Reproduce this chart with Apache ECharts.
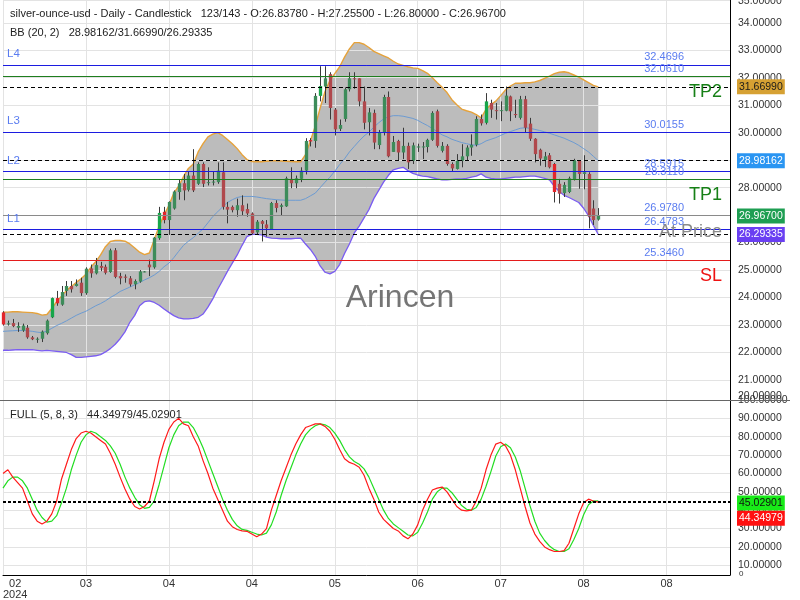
<!DOCTYPE html>
<html><head><meta charset="utf-8">
<script src="https://cdn.jsdelivr.net/npm/echarts@6/dist/echarts.min.js"></script>
<style>html,body{margin:0;padding:0;background:#fff}#c{width:800px;height:600px}</style>
</head><body><div id="c"></div>
<script>
// ---------- DATA ----------
const tickLabels = ['02','03','04','04','05','06','07','08','08'];
const tickYear = '2024';
const SLOTS = 150;
const TICK_EVERY = 17;

const open = [23.46,23.04,23.07,22.9,22.8,22.9,22.55,22.48,22.5,22.7,
23.28,23.98,23.74,24.24,24.42,24.42,24.54,24.16,25.06,24.88,
25.15,25.12,24.93,25.72,24.78,24.76,24.7,24.48,24.58,24.94,
25.2,25.1,26.16,27.12,26.82,27.24,27.84,28.16,27.92,28.44,
28.14,28.86,28.18,28.2,28.2,28.56,27.3,27.3,27.18,27.36,
27.22,27.06,26.37,26.78,26.66,26.48,27.44,27.3,27.32,28.32,
28.16,28.32,28.62,29.73,29.7,31.34,31.68,32.13,30.84,30.14,
30.5,31.58,31.98,31.98,31.14,30.38,30.72,29.55,29.99,31.3,
29.3,29.7,29.28,29.52,28.98,29.46,29.48,29.48,29.74,30.78,
29.34,29.52,28.86,28.68,28.98,29.14,29.46,29.56,30.5,30.36,
31.08,30.82,30.8,30.8,31.32,30.68,30.54,31.22,30.33,29.78,
29.38,29.0,29.18,28.86,28.14,27.8,27.84,28.3,29.0,28.5,
28.5,27.24,26.8378];
const close = [23.02,23.06,22.96,22.97,22.98,22.55,22.48,22.5,22.76,23.16,
23.98,23.79,24.2,24.42,24.3,24.5,24.16,25.05,24.88,25.18,
25.08,24.9,25.72,24.75,24.7,24.72,24.48,24.6,24.95,24.95,
25.1,26.18,27.08,26.82,27.48,27.86,28.16,27.9,28.44,27.9,
28.86,28.14,28.2,28.22,28.62,27.3,27.2,27.18,27.36,27.14,
27.06,26.34,26.76,26.68,26.52,27.44,27.26,27.36,28.34,28.16,
28.34,28.62,29.7,29.68,31.34,31.7,31.98,30.9,30.12,30.28,
31.58,31.98,31.96,31.14,30.36,30.74,29.64,29.99,31.3,29.14,
29.66,29.28,29.52,28.92,29.54,29.5,29.5,29.74,30.72,29.52,
29.52,28.86,28.7,28.98,29.14,29.46,29.56,30.5,30.34,31.14,
30.84,30.8,30.82,31.35,30.78,30.64,31.22,30.18,29.78,29.22,
29.06,29.14,28.74,27.84,27.78,28.1,28.34,29.0,28.5,28.56,
26.94,26.82,26.967];
const low = [22.98,22.98,22.92,22.75,22.75,22.5,22.45,22.35,22.38,22.65,
23.25,23.7,23.7,24.06,24.18,24.4,24.06,24.1,24.72,24.84,
24.96,24.84,24.9,24.7,24.48,24.54,24.4,24.3,24.54,24.92,
24.78,25.05,26.1,26.7,26.28,27.2,27.56,27.54,27.86,27.84,
28.1,28.02,28.08,28.08,28.14,27.2,26.7,27.1,26.94,27.0,
26.94,26.3,26.28,26.04,26.22,26.46,27.1,27.0,27.3,27.98,
27.98,28.2,28.48,29.5,29.45,31.14,31.08,30.48,29.9,30.06,
30.4,31.5,31.6,30.96,30.12,29.9,29.4,29.4,29.9,29.1,
29.3,29.0,29.04,28.68,28.86,29.3,29.04,29.28,29.7,29.46,
29.28,28.8,28.58,28.66,28.74,28.98,29.16,29.5,30.26,30.3,
30.54,30.48,30.42,30.78,30.42,30.54,30.48,30.0,29.7,28.92,
28.8,28.75,28.7,27.46,27.42,27.66,27.8,28.26,27.96,27.94,
26.52,26.64,26.80];
const high = [23.5,23.16,23.22,23.1,23.05,23.0,22.6,22.55,22.8,23.2,
24.0,24.24,24.42,24.6,24.6,24.66,24.72,25.1,25.2,25.44,
25.3,25.2,25.78,25.8,24.9,24.84,24.78,24.66,25.0,24.96,
25.38,26.2,27.3,27.3,27.5,27.9,28.3,28.5,28.6,29.4,
28.92,28.92,28.74,28.6,28.92,28.92,27.48,27.35,27.6,27.72,
27.42,27.1,26.82,26.82,26.82,27.48,27.54,27.42,28.4,28.74,
28.44,28.74,29.8,29.8,31.44,32.42,32.42,32.2,30.9,30.48,
31.65,32.2,32.2,31.98,31.68,30.9,30.84,30.1,31.38,31.5,
29.88,29.74,30.18,29.64,29.64,29.6,29.66,29.78,30.78,30.84,
29.66,29.58,28.92,29.22,29.58,29.54,29.94,30.6,30.66,31.44,
31.2,31.08,31.14,31.68,31.35,31.2,31.34,31.34,30.54,29.8,
29.42,29.3,29.26,28.9,28.32,28.2,28.4,29.05,29.0,29.18,
28.56,27.54,27.255];
const brightUp = [10,32,65,99];
const brightDown = [0,11,33,63,113];

const bbUpper = [23.47,23.47,23.48,23.48,23.47,23.46,23.45,23.42,23.36,23.38,
23.6,23.85,24.05,24.25,24.4,24.55,24.68,24.85,25.1,25.3,
25.55,25.85,26.04,26.08,26.08,26.05,25.95,25.8,25.65,25.56,
25.62,26.1,26.6,27.0,27.35,27.8,28.05,28.4,28.7,28.86,
29.3,29.6,29.85,29.95,30.0,29.9,29.75,29.6,29.42,29.2,
29.02,28.95,28.94,28.94,28.96,28.98,28.98,28.97,28.96,28.95,
28.94,28.94,29.2,29.7,30.24,30.9,31.5,31.9,32.15,32.4,
32.75,33.05,33.28,33.28,33.22,33.1,32.96,32.88,32.8,32.72,
32.6,32.5,32.45,32.4,32.36,32.34,32.26,32.16,32.0,31.82,
31.65,31.46,31.2,31.02,30.86,30.8,30.75,30.66,30.54,30.85,
31.02,31.15,31.35,31.56,31.7,31.8,31.8,31.82,31.82,31.85,
31.9,31.98,32.06,32.15,32.2,32.22,32.18,32.1,32.02,31.92,
31.82,31.72,31.6699];
const bbMiddle = [22.77,22.78,22.79,22.8,22.8,22.79,22.77,22.74,22.72,22.78,
22.88,22.98,23.06,23.15,23.25,23.35,23.43,23.5,23.6,23.7,
23.78,23.88,24.0,24.1,24.22,24.3,24.38,24.46,24.55,24.64,
24.72,24.82,24.95,25.12,25.25,25.45,25.68,25.9,26.05,26.18,
26.34,26.5,26.72,26.95,27.12,27.3,27.46,27.56,27.64,27.68,
27.68,27.68,27.66,27.63,27.6,27.58,27.56,27.55,27.54,27.54,
27.54,27.54,27.6,27.7,27.8,28.0,28.2,28.38,28.6,28.84,
29.05,29.3,29.5,29.7,29.88,30.02,30.2,30.36,30.5,30.58,
30.62,30.62,30.6,30.56,30.52,30.45,30.35,30.26,30.15,30.04,
29.92,29.85,29.76,29.7,29.64,29.6,29.56,29.54,29.6,29.7,
29.76,29.82,29.9,29.98,30.04,30.1,30.16,30.18,30.16,30.12,
30.08,30.03,29.98,29.92,29.86,29.8,29.72,29.64,29.54,29.42,
29.3,29.14,28.98162];
const bbLower = [22.08,22.08,22.09,22.1,22.1,22.1,22.1,22.08,22.06,22.08,
22.06,22.04,22.02,22.0,21.92,21.82,21.82,21.84,21.86,21.88,
21.92,22.02,22.14,22.3,22.5,22.75,23.1,23.35,23.7,23.85,
23.88,23.82,23.72,23.58,23.46,23.34,23.26,23.22,23.22,23.24,
23.28,23.4,23.65,23.95,24.3,24.62,24.95,25.25,25.55,25.9,
26.22,26.3,26.3,26.28,26.2,26.16,26.15,26.14,26.14,26.14,
26.15,26.16,25.95,25.75,25.5,25.15,24.92,24.86,24.95,25.2,
25.6,25.95,26.35,26.6,26.9,27.2,27.6,27.9,28.2,28.45,
28.65,28.7,28.74,28.62,28.52,28.46,28.42,28.4,28.36,28.32,
28.28,28.28,28.3,28.32,28.32,28.34,28.38,28.42,28.5,28.38,
28.34,28.32,28.32,28.34,28.36,28.38,28.38,28.4,28.42,28.42,
28.38,28.34,28.28,28.05,27.86,27.72,27.64,27.55,27.46,27.25,
26.98,26.62,26.29335];

const stochK = [60,62,58,55,52,45,38,34,32.5,34,
38,45,57,65,73,79,82,83,82,80,
78,76,71,65,58,51.5,46,42,40.6,42,
45,56,68,77,84,88,90,87,86,80,
75,67,60,52,46,40,34,31,29.5,28.7,
28.5,27,25.5,27,30,40,48,56,63,70,
76,81,85,86,87,87,85.6,83,78.6,73,
68,66,65,63.4,59,52,46,39,35,32.5,
30,28.7,26,24.4,27,32,40,46,51,52,
52.6,50,46,42,40,39.6,40,45,52,62,
70,76,77,75,70,62,52,42,33,27,
23,20,18.5,17.5,17.5,18,22,30,38,44,
46,45,44.34979];
const stochD = [52,56,58,58,56,52,46,40,36,33.5,
34,37,44,52,62,70,77,81,83,82,
80,78,75,71,65,58,52,47,43,41,
41.5,45,54,64,74,81,86,88,88,85,
80,74,67,60,53,46,40,35,31.5,29.5,
29,28,27,26.5,27.5,32,39,48,56,63,
70,76,81,84,86,87,86.5,85,82,78,
73,69,66.5,65,62.5,58,52,46,40,35.5,
32.5,30.5,28.5,26.5,26,28,33,39,46,50,
52,52,49.5,46,42.5,40.5,40,41.5,46,53,
61,69.5,74.5,76,74,69,61.5,52,42.5,34,
27.5,23.5,20.5,18.5,17.5,17.5,19,24,30,37.5,
43,45,45.02901];

const levelValues = [32.4696, 32.0610, 30.0155, 28.5915, 28.3110, 26.9780, 26.4783, 25.3460];
const levelNames  = ['L4', 'TP2', 'L3', 'L2', 'TP1', 'At Price', 'L1', 'SL'];

// ---------- BUILD ----------
const FONT = "'Liberation Sans', Arial, sans-serif";
const categories = Array.from({length: SLOTS}, (_, i) => String(i));
const candleData = open.map((o, i) => [i, o, close[i], low[i], high[i]]);
const last = open.length - 1;

function kindOf(name) {
  if (name[0] === 'L') return 'L';
  if (name.startsWith('TP')) return 'TP';
  if (name === 'SL') return 'SL';
  return 'AP';
}
const lineColor = {L: '#1c1ce0', TP: '#1e7e1e', SL: '#e41c1c', AP: '#8a8a8a'};
const nameColor = {L: '#5a7cf0', TP: '#178017', SL: '#ee1111', AP: '#8a8a8a'};

const mainMarks = [];
levelValues.forEach((v, k) => {
  const kind = kindOf(levelNames[k]);
  const ls = {color: lineColor[kind], width: 1, type: 'solid'};
  mainMarks.push({yAxis: v, lineStyle: ls,
    label: {show: true, position: 'insideEndTop', formatter: v.toFixed(4), color: '#5a7cf0',
      fontSize: 11, fontFamily: FONT, distance: [46, 2]}});
  if (kind === 'L') {
    mainMarks.push({yAxis: v, lineStyle: ls,
      label: {show: true, position: 'insideStartTop', formatter: levelNames[k], color: nameColor[kind],
        fontSize: 11.5, fontFamily: FONT, distance: [4, 5]}});
  } else {
    mainMarks.push({yAxis: v, lineStyle: ls,
      label: {show: true, position: 'insideEndBottom', formatter: levelNames[k], color: nameColor[kind],
        fontSize: 18, fontFamily: FONT, distance: [8, 7]}});
  }
});
[bbUpper[last], bbMiddle[last], bbLower[last]].forEach(v => {
  mainMarks.push({yAxis: v, lineStyle: {color: '#000', width: 1, type: [4, 3]}, label: {show: false}});
});

const isMult = (v, m) => Math.abs(v / m - Math.round(v / m)) < 1e-6;

const chart = echarts.init(document.getElementById('c'), null, {renderer: 'canvas'});
const option = {
  animation: false,
  backgroundColor: '#fff',
  textStyle: {fontFamily: FONT},
  grid: [
    {left: 3, right: 70, top: 0, height: 400},
    {left: 3, right: 70, top: 400, height: 176}
  ],
  xAxis: [
    {gridIndex: 0, type: 'category', data: categories, boundaryGap: false,
     axisLine: {show: false}, axisTick: {show: false}, axisLabel: {show: false},
     splitLine: {show: true, interval: i => i % TICK_EVERY === 0, lineStyle: {color: '#e3e3e3'}}},
    {gridIndex: 1, type: 'category', data: categories, boundaryGap: false,
     axisLine: {show: true, lineStyle: {color: '#000', width: 1}}, axisTick: {show: false},
     axisLabel: {interval: i => i % TICK_EVERY === 0, color: '#333', fontSize: 11, margin: 3,
       alignMinLabel: 'left', lineHeight: 11,
       formatter: (v, i) => {
         const idx = Number(v);
         if (idx % TICK_EVERY !== 0) return '';
         const k = idx / TICK_EVERY;
         return k === 0 ? '  ' + tickLabels[0] + '\n' + tickYear : tickLabels[k];
       }},
     splitLine: {show: true, interval: i => i % TICK_EVERY === 0, lineStyle: {color: '#e3e3e3'}}}
  ],
  yAxis: [
    {gridIndex: 0, position: 'right', min: 20.27, max: 34.83, minInterval: 1, maxInterval: 1,
     axisLine: {show: true, lineStyle: {color: '#000', width: 1}}, axisTick: {show: false},
     axisLabel: {color: '#333', fontSize: 10.5, margin: 8,
       formatter: v => isMult(v, 1) ? v.toFixed(5) : ''},
     splitLine: {show: true, lineStyle: {color: '#e3e3e3'}}},
    {gridIndex: 1, position: 'right', min: 4.7, max: 100, minInterval: 10, maxInterval: 10,
     axisLine: {show: true, lineStyle: {color: '#000', width: 1}}, axisTick: {show: false},
     axisLabel: {color: '#333', fontSize: 10.5, margin: 8,
       formatter: v => isMult(v, 10) ? v.toFixed(5) : ''},
     splitLine: {show: true, lineStyle: {color: '#e3e3e3'}}}
  ],
  series: [
    { // BB fill
      type: 'custom', xAxisIndex: 0, yAxisIndex: 0, z: -1, silent: true,
      data: [[0, bbMiddle[0]]],
      renderItem: (params, api) => {
        const pts = [];
        for (let i = 0; i < bbUpper.length; i++) pts.push(api.coord([i, bbUpper[i]]));
        for (let i = bbLower.length - 1; i >= 0; i--) pts.push(api.coord([i, bbLower[i]]));
        return {type: 'polygon', shape: {points: pts}, style: {fill: '#bcbcbc'}};
      }
    },
    {type: 'line', xAxisIndex: 0, yAxisIndex: 0, data: bbMiddle, symbol: 'none', silent: true,
     lineStyle: {color: '#6c9bd2', width: 1}, z: 2,
     markLine: {symbol: ['none', 'none'], silent: true, animation: false, data: mainMarks}},
    {type: 'line', xAxisIndex: 0, yAxisIndex: 0, data: bbUpper, symbol: 'none', silent: true,
     lineStyle: {color: '#e6a23a', width: 1.4}, z: 2},
    {type: 'line', xAxisIndex: 0, yAxisIndex: 0, data: bbLower, symbol: 'none', silent: true,
     lineStyle: {color: '#7a5cf2', width: 1.3}, z: 2},
    { // candles
      type: 'custom', xAxisIndex: 0, yAxisIndex: 0, z: 3, silent: true,
      data: candleData, encode: {x: 0, y: [1, 2, 3, 4]},
      renderItem: (params, api) => {
        const i = api.value(0), o = api.value(1), c = api.value(2), l = api.value(3), h = api.value(4);
        const pO = api.coord([i, o]), pC = api.coord([i, c]), pL = api.coord([i, l]), pH = api.coord([i, h]);
        const x = Math.round(pO[0]) + 0.5;
        const w = Math.max(2, api.size([1, 0])[0] * 0.68);
        let col = c >= o ? '#3d8c5a' : '#b0484c';
        if (brightUp.includes(i)) col = '#17a64a';
        if (brightDown.includes(i)) col = '#e3262b';
        const top = Math.min(pO[1], pC[1]);
        const hgt = Math.max(1, Math.abs(pO[1] - pC[1]));
        return {type: 'group', children: [
          {type: 'line', shape: {x1: x, y1: pH[1], x2: x, y2: pL[1]}, style: {stroke: '#3a3a3a', lineWidth: 1}},
          {type: 'rect', shape: {x: x - w / 2, y: top, width: w, height: hgt}, style: {fill: col}}
        ]};
      }
    },
    {type: 'line', xAxisIndex: 1, yAxisIndex: 1, data: stochD, symbol: 'none', silent: true,
     lineStyle: {color: '#22dd22', width: 1.2}},
    {type: 'line', xAxisIndex: 1, yAxisIndex: 1, data: stochK, symbol: 'none', silent: true,
     lineStyle: {color: '#ff1a1a', width: 1.2},
     markLine: {symbol: ['none', 'none'], silent: true, animation: false,
       data: [{yAxis: stochK[last], lineStyle: {color: '#000', width: 2, type: [3, 2]}, label: {show: false}}]}}
  ]
};
chart.setOption(option);

// value tags on the right axis
const tags = [
  {axis: 0, value: bbUpper[last], bg: '#d6a133', fg: '#1a1a1a', dy: 0},
  {axis: 0, value: bbMiddle[last], bg: '#2a95f2', fg: '#ffffff', dy: 0},
  {axis: 0, value: close[last], bg: '#1e9e52', fg: '#ffffff', dy: 0},
  {axis: 0, value: bbLower[last], bg: '#6a3ff2', fg: '#ffffff', dy: 0},
  {axis: 1, value: stochD[last], bg: '#18ea18', fg: '#111111', dy: 2},
  {axis: 1, value: stochK[last], bg: '#ff1010', fg: '#ffffff', dy: 16}
];
const graphics = [];
tags.forEach(t => {
  const y = chart.convertToPixel({yAxisIndex: t.axis}, t.value) + t.dy;
  graphics.push({type: 'text', x: 737, y: y, z: 100,
    style: {text: t.value.toFixed(5), fill: t.fg, font: '10.5px ' + FONT, backgroundColor: t.bg,
      padding: [2, 2, 2, 2], verticalAlign: 'middle', align: 'left'}});
});
graphics.push({type: 'text', x: 738, y: 1.5, z: 50,
  style: {text: (35).toFixed(5), fill: '#333', font: '10.5px ' + FONT, verticalAlign: 'middle'}});
graphics.push({type: 'text', x: 738, y: 396, z: 50,
  style: {text: (20).toFixed(5), fill: '#333', font: '10.5px ' + FONT, verticalAlign: 'middle'}});
graphics.push({type: 'text', x: 739, y: 574, z: 50,
  style: {text: '0', fill: '#333', font: '8px ' + FONT, verticalAlign: 'middle'}});
graphics.push({type: 'line', z: 60, shape: {x1: 0, y1: 400.5, x2: 790, y2: 400.5}, style: {stroke: '#666', lineWidth: 1}});
graphics.push({type: 'text', x: 10, y: 14, z: 100,
  style: {text: 'silver-ounce-usd - Daily - Candlestick   123/143 - O:26.83780 - H:27.25500 - L:26.80000 - C:26.96700',
    fill: '#222', font: '11px ' + FONT, verticalAlign: 'middle'}});
graphics.push({type: 'text', x: 10, y: 33, z: 100,
  style: {text: 'BB (20, 2)   ' + bbMiddle[last].toFixed(5) + '/' + bbUpper[last].toFixed(5) + '/' + bbLower[last].toFixed(5),
    fill: '#222', font: '11px ' + FONT, verticalAlign: 'middle'}});
graphics.push({type: 'text', x: 10, y: 415, z: 100,
  style: {text: 'FULL (5, 8, 3)   ' + stochK[last].toFixed(5) + '/' + stochD[last].toFixed(5),
    fill: '#222', font: '11px ' + FONT, verticalAlign: 'middle'}});
graphics.push({type: 'text', x: 400, y: 298, z: 1,
  style: {text: 'Arincen', fill: '#666', font: '32px ' + FONT, align: 'center', verticalAlign: 'middle', opacity: 0.9}});
chart.setOption({graphic: graphics});
</script>
</body></html>
